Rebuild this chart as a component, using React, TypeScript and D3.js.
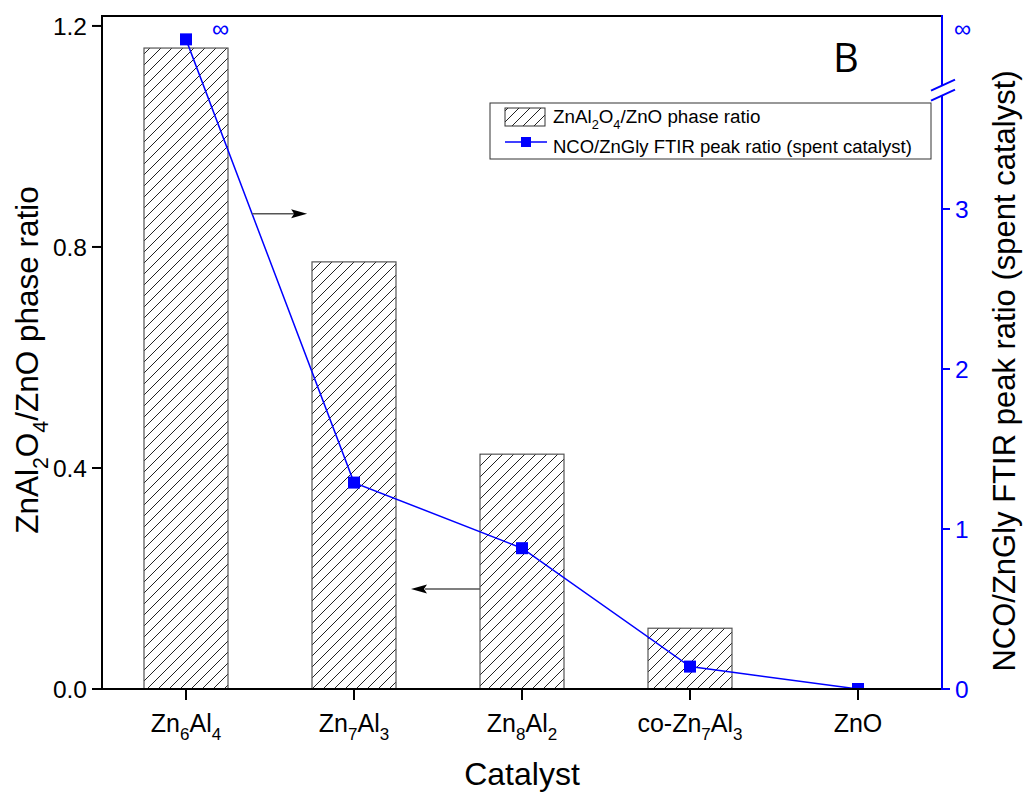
import React from "react";
import * as d3 from "d3";

// Catalysts on the x axis (digits render as subscripts)
const categories = ["Zn6Al4", "Zn7Al3", "Zn8Al2", "co-Zn7Al3", "ZnO"];
// ZnAl2O4/ZnO phase ratio (left axis, bars)
const phaseRatio = [1.16, 0.773, 0.425, 0.11, 0];
// NCO/ZnGly FTIR peak ratio of the spent catalysts (right axis, line); first value is unbounded
const peakRatio = [Infinity, 1.29, 0.88, 0.14, 0];

const leftTicks = [0, 0.4, 0.8, 1.2];
const rightTicks = [0, 1, 2, 3];

const leftTitle = "ZnAl2O4/ZnO phase ratio";
const rightTitle = "NCO/ZnGly FTIR peak ratio (spent catalyst)";
const xTitle = "Catalyst";
const legendLabels = ["ZnAl2O4/ZnO phase ratio", "NCO/ZnGly FTIR peak ratio (spent catalyst)"];

// Right axis: linear part up to the break, infinity drawn above it
const RIGHT_MAX = 4.206;
const RIGHT_BREAK = 3.74;
const INF_LEVEL = 4.06;
const LEFT_MAX = 1.218;

const W = 1025;
const H = 793;
const M = { left: 102, right: 942, top: 16, bottom: 689 };
const FONT = "'Liberation Sans', Arial, Helvetica, sans-serif";
const BLUE = "#0000ff";

function splitSub(label: string) {
  return label
    .split(/(\d+)/)
    .filter((s) => s.length > 0)
    .map((s) => ({ text: s, sub: /^\d+$/.test(s) }));
}

function SubText(props: {
  label: string;
  x: number;
  y: number;
  size: number;
  anchor?: string;
  fill?: string;
  transform?: string;
  family?: string;
}) {
  const { label, x, y, size, anchor = "start", fill = "#000", transform, family = FONT } = props;
  const segs = splitSub(label);
  const shift = size * 0.33;
  let prevSub = false;
  return (
    <text x={x} y={y} fontSize={size} fontFamily={family} textAnchor={anchor} fill={fill} transform={transform}>
      {segs.map((s, i) => {
        let dy = 0;
        if (s.sub && !prevSub) dy = shift;
        if (!s.sub && prevSub) dy = -shift;
        prevSub = s.sub;
        return (
          <tspan key={i} dy={dy} fontSize={s.sub ? size * 0.68 : size}>
            {s.text}
          </tspan>
        );
      })}
    </text>
  );
}

export default function App() {
  const x = d3
    .scaleBand<string>()
    .domain(categories)
    .range([M.left, M.right])
    .paddingInner(0.5)
    .paddingOuter(0.25);
  const yL = d3.scaleLinear().domain([0, LEFT_MAX]).range([M.bottom, M.top]);
  const yR = d3.scaleLinear().domain([0, RIGHT_MAX]).range([M.bottom, M.top]);
  const cx = (c: string) => (x(c) as number) + x.bandwidth() / 2;
  const ry = (v: number) => (Number.isFinite(v) ? yR(v) : yR(INF_LEVEL));

  const pts = categories.map((c, i) => [cx(c), ry(peakRatio[i])] as [number, number]);
  const linePath = d3.line()(pts) as string;

  const breakY = yR(RIGHT_BREAK);

  // Arrow pointing to the right axis starts on the first line segment
  const a1y = yL(0.86);
  const [p0, p1] = [pts[0], pts[1]];
  const a1x = p0[0] + ((a1y - p0[1]) / (p1[1] - p0[1])) * (p1[0] - p0[0]);
  // Arrow pointing to the left axis starts at the Zn8Al2 bar
  const a2y = yL(0.181);
  const a2x = x(categories[2]) as number;

  const markerSize = 12;

  return (
    <svg
      width={W}
      height={H}
      style={{ position: "absolute", left: 0, top: 0, background: "#fff" }}
      xmlns="http://www.w3.org/2000/svg"
    >
      <defs>
        <pattern id="hatch" patternUnits="userSpaceOnUse" width={11} height={11}>
          <path d="M-1,1 l2,-2 M0,11 l11,-11 M10,12 l2,-2" stroke="#222" strokeWidth={1} />
        </pattern>
        <clipPath id="plotClip">
          <rect x={M.left} y={M.top} width={M.right - M.left} height={M.bottom - M.top} />
        </clipPath>
      </defs>
      <rect width={W} height={H} fill="#fff" />

      {/* bars */}
      {categories.map((c, i) =>
        phaseRatio[i] > 0 ? (
          <g key={c}>
            <rect
              x={x(c)}
              y={yL(phaseRatio[i])}
              width={x.bandwidth()}
              height={yL(0) - yL(phaseRatio[i])}
              fill="#fff"
            />
            <rect
              x={x(c)}
              y={yL(phaseRatio[i])}
              width={x.bandwidth()}
              height={yL(0) - yL(phaseRatio[i])}
              fill="url(#hatch)"
              stroke="#555"
              strokeWidth={1.2}
            />
          </g>
        ) : null
      )}

      {/* peak ratio line */}
      <g clipPath="url(#plotClip)">
        <path d={linePath} fill="none" stroke={BLUE} strokeWidth={1.5} />
        {pts.map((p, i) => (
          <rect
            key={i}
            x={p[0] - markerSize / 2}
            y={p[1] - markerSize / 2}
            width={markerSize}
            height={markerSize}
            fill={BLUE}
          />
        ))}
      </g>
      <text x={pts[0][0] + 26} y={pts[0][1] - 2} fontSize={24} fontFamily={FONT} fill={BLUE}>
        ∞
      </text>

      {/* arrows */}
      <g>
        <line x1={a1x} y1={a1y} x2={a1x + 42} y2={a1y} stroke="#555" strokeWidth={1.5} />
        <path d={`M${a1x + 55},${a1y} L${a1x + 39},${a1y - 4.5} L${a1x + 42},${a1y} L${a1x + 39},${a1y + 4.5} Z`} fill="#000" />
        <line x1={a2x} y1={a2y} x2={a2x - 55} y2={a2y} stroke="#555" strokeWidth={1.5} />
        <path d={`M${a2x - 69},${a2y} L${a2x - 53},${a2y - 4.5} L${a2x - 56},${a2y} L${a2x - 53},${a2y + 4.5} Z`} fill="#000" />
      </g>

      {/* frame */}
      <line x1={M.left} y1={M.top} x2={M.right} y2={M.top} stroke="#000" strokeWidth={2} />
      <line x1={M.left} y1={M.top - 1} x2={M.left} y2={M.bottom + 1} stroke="#000" strokeWidth={2} />

      {/* left axis */}
      {leftTicks.map((t) => (
        <g key={t}>
          <line x1={M.left - 10} x2={M.left} y1={yL(t)} y2={yL(t)} stroke="#000" strokeWidth={2} />
          <text x={M.left - 15} y={yL(t)} dy="0.36em" textAnchor="end" fontSize={24.5} fontFamily={FONT}>
            {d3.format(".1f")(t)}
          </text>
        </g>
      ))}

      {/* bottom axis */}
      <line x1={M.left - 10} x2={M.right} y1={M.bottom} y2={M.bottom} stroke="#000" strokeWidth={2} />
      {categories.map((c) => (
        <g key={c}>
          <line x1={cx(c)} x2={cx(c)} y1={M.bottom} y2={M.bottom + 11} stroke="#000" strokeWidth={2} />
          <SubText label={c} x={cx(c)} y={732} size={25} anchor="middle" />
        </g>
      ))}

      {/* right axis with break */}
      <line x1={M.right} x2={M.right} y1={M.top - 1} y2={breakY - 5} stroke={BLUE} strokeWidth={2} />
      <line x1={M.right} x2={M.right} y1={breakY + 5} y2={M.bottom + 1} stroke={BLUE} strokeWidth={2} />
      <line x1={M.right - 11} y1={breakY} x2={M.right + 13} y2={breakY - 11} stroke={BLUE} strokeWidth={2} />
      <line x1={M.right - 11} y1={breakY + 10} x2={M.right + 13} y2={breakY - 1} stroke={BLUE} strokeWidth={2} />
      {rightTicks.map((t) => (
        <g key={t}>
          <line x1={M.right} x2={M.right + 8} y1={yR(t)} y2={yR(t)} stroke={BLUE} strokeWidth={2} />
          <text x={M.right + 13} y={yR(t)} dy="0.36em" fontSize={24.5} fontFamily={FONT} fill={BLUE}>
            {t}
          </text>
        </g>
      ))}
      <text x={M.right + 12} y={yR(INF_LEVEL) - 2} fontSize={24} fontFamily={FONT} fill={BLUE}>
        ∞
      </text>

      {/* axis titles */}
      <text x={522} y={785} textAnchor="middle" fontSize={32} fontFamily={FONT}>
        {xTitle}
      </text>
      <SubText
        label={leftTitle}
        x={0}
        y={0}
        size={31.5}
        anchor="middle"
        transform={`translate(38,360) rotate(-90)`}
      />
      <SubText
        label={rightTitle}
        x={0}
        y={0}
        size={31}
        anchor="middle"
        transform={`translate(1015,371) rotate(-90)`}
      />

      {/* panel letter */}
      <text x={833} y={72} fontSize={40} fontFamily="'Open Sans', sans-serif">
        B
      </text>

      {/* legend */}
      <g>
        <rect x={490} y={103} width={441} height={56} fill="#fff" stroke="#333" strokeWidth={1} />
        <rect x={505} y={108} width={40} height={18} fill="#fff" />
        <rect x={505} y={108} width={40} height={18} fill="url(#hatch)" stroke="#333" strokeWidth={1} />
        <SubText label={legendLabels[0]} x={553} y={123} size={18.8} />
        <line x1={505} x2={547} y1={142} y2={142} stroke={BLUE} strokeWidth={1.5} />
        <rect x={521} y={137} width={10} height={10} fill={BLUE} />
        <SubText label={legendLabels[1]} x={553} y={153} size={18.5} />
      </g>
    </svg>
  );
}
